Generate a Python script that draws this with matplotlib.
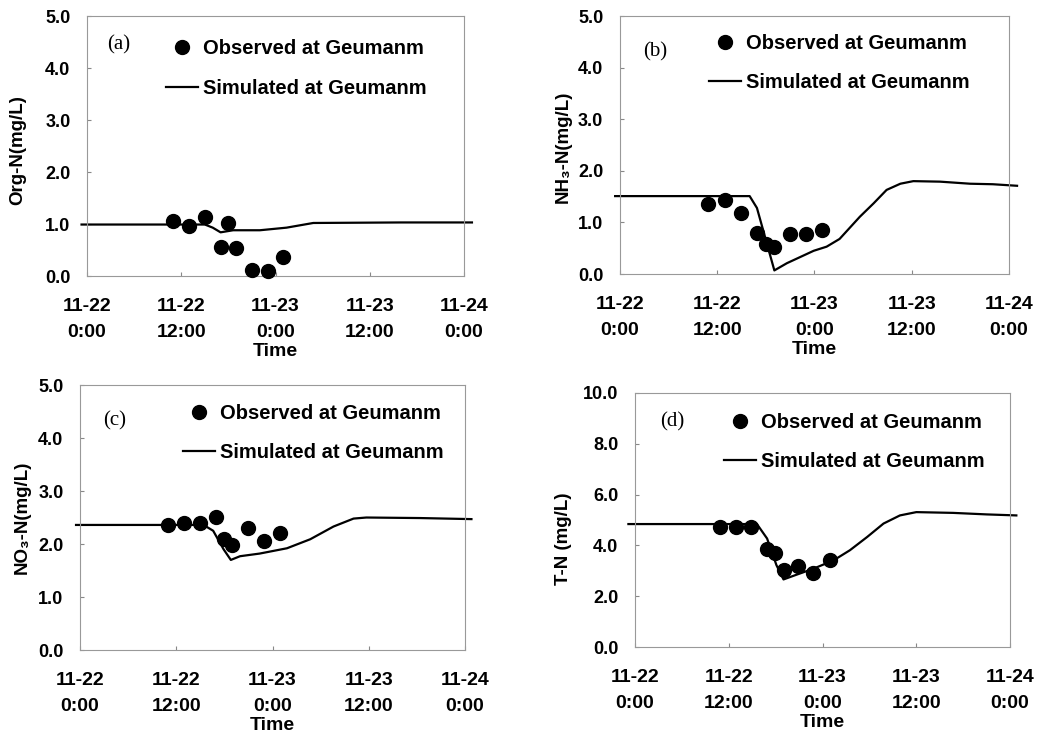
import matplotlib
matplotlib.use("Agg")
import matplotlib.pyplot as plt

plt.rcParams['font.family'] = ['Liberation Sans', 'DejaVu Sans']

# time in hours from 11-22 0:00
xticks = [0, 12, 24, 36, 48]
xticklabels = ["11-22\n0:00", "11-22\n12:00", "11-23\n0:00", "11-23\n12:00", "11-24\n0:00"]

# (a) Org-N
orgn_obs_t = [11, 13, 15, 17, 18, 19, 21, 23, 25]
orgn_obs = [1.06, 0.96, 1.14, 0.55, 1.01, 0.54, 0.11, 0.09, 0.37]
orgn_sim_t = [-0.7, 15, 16, 17, 18.6, 22, 25.4, 28.8, 40, 49]
orgn_sim = [0.99, 0.99, 0.93, 0.84, 0.88, 0.88, 0.93, 1.02, 1.03, 1.03]

# (b) NH3-N
nh3_obs_t = [10.9, 12.9, 14.9, 16.9, 18.0, 19.0, 21.0, 22.9, 24.9]
nh3_obs = [1.36, 1.43, 1.18, 0.79, 0.58, 0.52, 0.77, 0.77, 0.85]
nh3_sim_t = [-0.6, 16, 16.9, 19.05, 20.6, 23.9, 25.5, 27.1, 29.6, 31.3, 32.9, 34.6, 36.2, 39.5, 43.2, 46, 49]
nh3_sim = [1.51, 1.51, 1.28, 0.07, 0.21, 0.45, 0.53, 0.68, 1.11, 1.37, 1.63, 1.75, 1.80, 1.79, 1.75, 1.74, 1.71]

# (c) NO3-N
no3_obs_t = [11.0, 13.0, 14.9, 16.9, 18.0, 18.9, 21.0, 22.9, 24.9]
no3_obs = [2.36, 2.39, 2.39, 2.51, 2.10, 1.98, 2.31, 2.06, 2.20]
no3_sim_t = [-0.5, 15.4, 16.6, 17.9, 18.8, 19.95, 22.4, 25.8, 28.7, 31.6, 34.1, 35.7, 42.4, 48.8]
no3_sim = [2.36, 2.36, 2.25, 1.90, 1.70, 1.77, 1.82, 1.92, 2.09, 2.33, 2.48, 2.50, 2.49, 2.47]

# (d) T-N
tn_obs_t = [10.9, 12.9, 14.9, 16.9, 17.9, 19.0, 20.9, 22.8, 24.9]
tn_obs = [4.72, 4.72, 4.72, 3.85, 3.70, 3.02, 3.19, 2.91, 3.41]
tn_sim_t = [-0.85, 15.6, 16.9, 18.1, 19.0, 20.7, 22.8, 25.4, 27.5, 29.7, 31.8, 33.9, 36.0, 40.7, 45, 48.8]
tn_sim = [4.84, 4.84, 4.27, 3.22, 2.66, 2.85, 3.08, 3.41, 3.81, 4.33, 4.86, 5.18, 5.31, 5.28, 5.22, 5.18]

panels = [
    dict(rect=[0.0833, 0.626, 0.3608, 0.3523], obs_t=orgn_obs_t, obs=orgn_obs,
         sim_t=orgn_sim_t, sim=orgn_sim, ymax=5.0, ystep=1.0, ylabel="Org-N(mg/L)",
         tag="(a)", tagpos=(0.085, 0.888), legpos=(0.21, 0.91), ylab=(-0.183, 0.485)),
    dict(rect=[0.5933, 0.6287, 0.3722, 0.3496], obs_t=nh3_obs_t, obs=nh3_obs,
         sim_t=nh3_sim_t, sim=nh3_sim, ymax=5.0, ystep=1.0, ylabel="NH\u2083-N(mg/L)",
         tag="(b)", tagpos=(0.09, 0.86), legpos=(0.228, 0.93), ylab=(-0.1465, 0.492)),
    dict(rect=[0.0766, 0.1192, 0.3684, 0.3591], obs_t=no3_obs_t, obs=no3_obs,
         sim_t=no3_sim_t, sim=no3_sim, ymax=5.0, ystep=1.0, ylabel="NO\u2083-N(mg/L)",
         tag="(c)", tagpos=(0.09, 0.864), legpos=(0.267, 0.928), ylab=(-0.151, 0.5)),
    dict(rect=[0.6077, 0.1233, 0.3589, 0.3442], obs_t=tn_obs_t, obs=tn_obs,
         sim_t=tn_sim_t, sim=tn_sim, ymax=10.0, ystep=2.0, ylabel="T-N (mg/L)",
         tag="(d)", tagpos=(0.099, 0.886), legpos=(0.237, 0.92), ylab=(-0.192, 0.425)),
]

fig = plt.figure(figsize=(10.45, 7.38), dpi=100)

for p in panels:
    ax = fig.add_axes(p["rect"])
    ax.plot(p["obs_t"], p["obs"], "o", color="black", markersize=10,
            label="Observed at Geumanm", clip_on=False, zorder=3)
    ax.plot(p["sim_t"], p["sim"], "-", color="black", linewidth=1.6,
            label="Simulated at Geumanm", clip_on=False)

    ax.set_xlim(0, 48)
    ax.set_ylim(0, p["ymax"])
    ax.set_xticks(xticks)
    ax.set_xticklabels(xticklabels, fontsize=14, fontweight="bold", linespacing=1.7)
    yt = [i * p["ystep"] for i in range(6)]
    ax.set_yticks(yt)
    ax.set_yticklabels([f"{v:.1f}" for v in yt], fontsize=13, fontweight="bold")
    ax.tick_params(axis="x", direction="in", length=3, color="#888888", pad=16)
    ax.tick_params(axis="y", direction="in", length=3, color="#888888", pad=12)

    for s in ax.spines.values():
        s.set_color("#999999")
        s.set_linewidth(0.8)

    ax.set_xlabel("Time", fontsize=14, fontweight="bold", labelpad=1)
    ax.set_ylabel(p["ylabel"], fontsize=13.5, fontweight="bold", va="center")
    ax.yaxis.set_label_coords(*p["ylab"])

    ax.text(p["tagpos"][0], p["tagpos"][1], p["tag"], transform=ax.transAxes,
            fontsize=15, family="Liberation Serif", ha="center", va="center")

    ax.legend(loc="upper left", bbox_to_anchor=p["legpos"], frameon=False,
              prop=dict(size=14.5, weight="bold"), handlelength=1.6,
              handletextpad=0.25, labelspacing=1.0, borderpad=0, borderaxespad=0)

fig.savefig("out.png", dpi=100)
